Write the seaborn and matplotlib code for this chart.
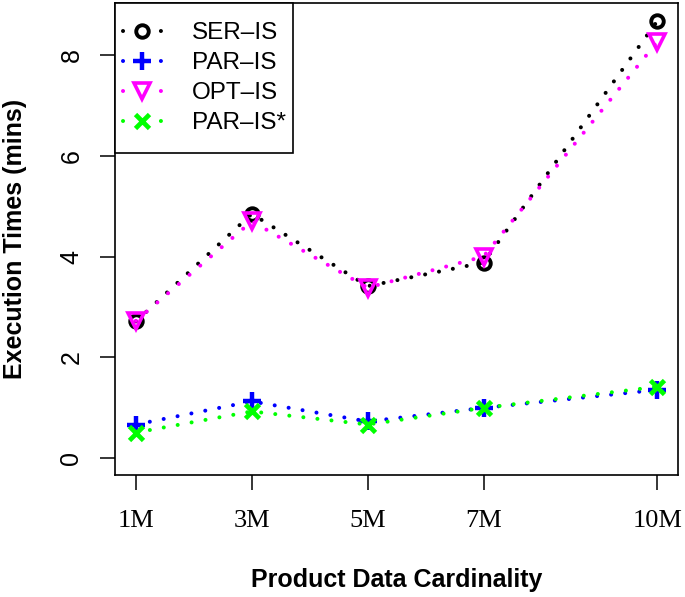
import matplotlib
matplotlib.use('Agg')
import numpy as np
import pandas as pd
import matplotlib.pyplot as plt
import seaborn as sns
from matplotlib.lines import Line2D
from matplotlib.patches import Rectangle

# values
CARDINALITY = [1, 3, 5, 7, 10]
TICK_LABELS = ['1M', '3M', '5M', '7M', '10M']
SER_IS = [2.71, 4.85, 3.41, 3.88, 8.68]
PAR_IS = [0.66, 1.12, 0.72, 0.99, 1.35]
OPT_IS = [2.72, 4.70, 3.38, 4.00, 8.27]
PAR_IS_STAR = [0.50, 0.92, 0.66, 0.99, 1.41]

SERIES = ['SER\u2013IS', 'PAR\u2013IS', 'OPT\u2013IS', 'PAR\u2013IS*']
VALUES = [SER_IS, PAR_IS, OPT_IS, PAR_IS_STAR]
COLORS = ['black', '#0000ff', '#ff00ff', '#00ff00']
MARKERS = [
    dict(marker='o', markersize=9, markeredgewidth=2.8, markerfacecolor='none'),
    dict(marker='+', markersize=13, markeredgewidth=3.2),
    dict(marker='v', markersize=11, markeredgewidth=2.6, markerfacecolor='none'),
    dict(marker='x', markersize=10, markeredgewidth=3.4),
]

sns.set_theme(style='ticks')
plt.rcParams['font.family'] = ['Liberation Sans', 'DejaVu Sans']
plt.rcParams['text.color'] = 'black'
plt.rcParams['axes.labelcolor'] = 'black'
plt.rcParams['xtick.color'] = 'black'
plt.rcParams['ytick.color'] = 'black'

df = pd.DataFrame({'cardinality': CARDINALITY})
for name, vals in zip(SERIES, VALUES):
    df[name] = vals

fig = plt.figure(figsize=(6.85, 5.97), dpi=100)
ax = fig.add_axes([0.168, 0.204, 0.822, 0.791])

dotted = (0, (0.01, 3.5))
for name, color, mk in zip(SERIES, COLORS, MARKERS):
    sns.lineplot(data=df, x='cardinality', y=name, ax=ax, color=color,
                 linewidth=2.9, linestyle=dotted, dash_capstyle='round',
                 markeredgecolor=color, **mk)

ax.set_xlim(0.64, 10.36)
ax.set_ylim(-0.348, 9.04)
ax.set_xticks(CARDINALITY)
ax.set_xticklabels(TICK_LABELS, fontfamily='Liberation Serif', fontsize=19)
ax.set_yticks([0, 2, 4, 6, 8])
ax.set_yticklabels(['0', '2', '4', '6', '8'], rotation=90, va='center', fontsize=18)
ax.tick_params(axis='both', length=10.8, width=1.1, color='black', direction='out')
ax.tick_params(axis='x', pad=14)
ax.tick_params(axis='y', pad=12)
for s in ax.spines.values():
    s.set_visible(True)
    s.set_linewidth(1.2)
    s.set_color('black')

ax.set_xlabel('Product Data Cardinality', fontsize=18, fontweight='bold', labelpad=26)
ax.set_ylabel('Execution Times (mins)', fontsize=18, fontweight='bold', labelpad=23)

# legend box drawn by hand (R style: wide vertical margins, narrow side margins)
box_w, box_h = 0.316, 0.318
ax.add_patch(Rectangle((0, 1 - box_h), box_w, box_h, transform=ax.transAxes,
                       facecolor='white', edgecolor='black', linewidth=1.2,
                       zorder=4.5, clip_on=False))

# legend handles: a dot either side of the marker, like R's type="b" key
handles = [Line2D([], [], color=c, linewidth=2.9, linestyle=(0, (0.01, 9.4)),
                  dash_capstyle='round', markeredgecolor=c, **mk)
           for c, mk in zip(COLORS, MARKERS)]
leg = ax.legend(handles, SERIES, loc='center left', bbox_to_anchor=(0, 1 - box_h / 2),
                borderaxespad=0, fontsize=17.5, frameon=False,
                handlelength=1.56, handletextpad=1.27,
                labelspacing=0.33, borderpad=0.33)
leg.set_zorder(5)

fig.savefig('out.png', dpi=100)
